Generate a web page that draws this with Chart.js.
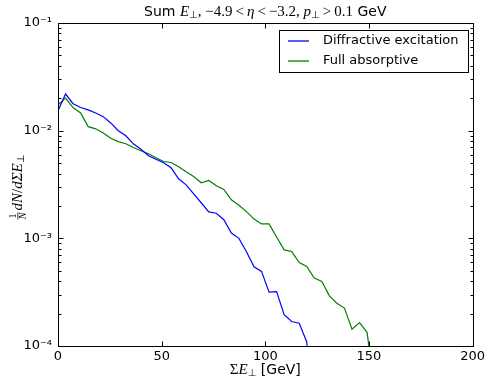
<!DOCTYPE html>
<html>
<head>
<meta charset="utf-8">
<script src="https://cdn.jsdelivr.net/npm/chart.js@4/dist/chart.umd.min.js"></script>
<style>
  html, body { margin: 0; padding: 0; background: #fff; }
</style>
</head>
<body>
<canvas id="chart" width="488" height="378"></canvas>
<script>
// sum E_perp bins (GeV)
const energies = [0, 3.64, 7.27, 10.91, 14.55, 18.18, 21.82, 25.45, 29.09, 32.73,
  36.36, 40, 43.64, 47.27, 50.91, 54.55, 58.18, 61.82, 65.45, 69.09,
  72.73, 76.36, 80, 83.64, 87.27, 90.91, 94.55, 98.18, 101.82, 105.45,
  109.09, 112.73, 116.36, 120, 123.64, 127.27, 130.91, 134.55, 138.18, 141.82,
  145.45, 149.09, 152.73]

const diffractive = [0.0153, 0.0219, 0.0178, 0.0164, 0.0156, 0.0146, 0.0135, 0.0118, 0.00998, 0.00897,
  0.00755, 0.00671, 0.00585, 0.00542, 0.00503, 0.00452, 0.00357, 0.00314, 0.00259, 0.00214,
  0.00176, 0.00171, 0.00149, 0.00112, 0.00100, 0.00075, 0.000543, 0.000493, 0.000316, 0.00032,
  0.000195, 0.000169, 0.000163, 0.000109, 0.00002]

const absorptive = [0.0174, 0.0201, 0.0164, 0.0146, 0.0109, 0.0104, 0.0095, 0.0085, 0.00792, 0.00756,
  0.00698, 0.0065, 0.0061, 0.0056, 0.00517, 0.00506, 0.00462, 0.00415, 0.00375, 0.00328,
  0.00345, 0.00308, 0.00285, 0.00228, 0.00203, 0.00177, 0.00151, 0.00136, 0.00136, 0.00103,
  0.000781, 0.000754, 0.000596, 0.000547, 0.000427, 0.000397, 0.000292, 0.00025, 0.000225, 0.000143,
  0.000165, 0.000134, 0.00004]

const seriesNames = ['Diffractive excitation', 'Full absorptive']
const seriesColors = ['#0000ff', '#008000']
const xTicks = [0, 50, 100, 150, 200]
const yTicks = [1e-4, 1e-3, 1e-2, 1e-1]
const yTickLabels = ['10\u207B\u2074', '10\u207B\u00B3', '10\u207B\u00B2', '10\u207B\u00B9']

const SANS = '14px "DejaVu Sans"'
const MI = 'italic 15px "Liberation Serif"'
const MR = '15px "Liberation Serif"'
const SUB = '10px "DejaVu Sans"'

function toPoints(vals) {
  return vals.map((v, i) => ({ x: energies[i], y: v }))
}

// draw a run of text pieces [text, font, dy]
function rich(ctx, parts, x, y, align) {
  let w = 0
  parts.forEach(p => { ctx.font = p[1]; w += ctx.measureText(p[0]).width })
  let cx = align === 'center' ? x - w / 2 : x
  parts.forEach(p => {
    ctx.font = p[1]
    ctx.fillText(p[0], cx, y + (p[2] || 0))
    cx += ctx.measureText(p[0]).width
  })
  return w
}

const decor = {
  id: 'decor',
  afterDraw(chart) {
    const { ctx, chartArea: a, scales: { x, y } } = chart
    ctx.save()
    ctx.strokeStyle = '#000'
    ctx.fillStyle = '#000'
    ctx.lineWidth = 1
    const L = Math.round(a.left) + 0.5, R = Math.round(a.right) + 0.5
    const T = Math.round(a.top) + 0.5, B = Math.round(a.bottom) + 0.5
    ctx.strokeRect(L, T, R - L, B - T)

    // inward ticks on all sides
    ctx.beginPath()
    xTicks.forEach(v => {
      const px = Math.round(x.getPixelForValue(v)) + 0.5
      ctx.moveTo(px, B); ctx.lineTo(px, B - 5)
      ctx.moveTo(px, T); ctx.lineTo(px, T + 5)
    })
    yTicks.forEach(v => {
      const py = Math.round(y.getPixelForValue(v)) + 0.5
      ctx.moveTo(L, py); ctx.lineTo(L + 5, py)
      ctx.moveTo(R, py); ctx.lineTo(R - 5, py)
    })
    for (let d = -4; d < -1; d++) {
      for (let k = 2; k < 10; k++) {
        const py = Math.round(y.getPixelForValue(k * Math.pow(10, d))) + 0.5
        ctx.moveTo(L, py); ctx.lineTo(L + 3, py)
        ctx.moveTo(R, py); ctx.lineTo(R - 3, py)
      }
    }
    ctx.stroke()

    ctx.textBaseline = 'middle'
    // title
    const th = '\u2009'
    rich(ctx, [
      ['Sum ', SANS], ['E', MI], ['\u22A5', SUB, 3], [', \u22124.9' + th + '<' + th, MR],
      ['\u03B7', MI], [th + '<' + th + '\u22123.2, ', MR], ['p', MI], ['\u22A5', SUB, 3],
      [th + '>' + th + '0.1', MR], [' GeV', SANS]
    ], (a.left + a.right) / 2, 12, 'center')

    // x axis title
    rich(ctx, [['\u03A3', MR], ['E', MI], ['\u22A5', SUB, 3], [' [GeV]', SANS]],
      (a.left + a.right) / 2, 370, 'center')

    // y axis title
    ctx.save()
    ctx.translate(18, (a.top + a.bottom) / 2 + 3)
    ctx.rotate(-Math.PI / 2)
    const restParts = [['dN', MI], ['/', MR], ['d\u03A3E', MI], ['\u22A5', SUB, 3]]
    let rw = 0
    restParts.forEach(p => { ctx.font = p[1]; rw += ctx.measureText(p[0]).width })
    const fw = 9
    const sx = -(rw + fw + 1) / 2
    ctx.textAlign = 'center'
    ctx.font = '10px "Liberation Serif"'
    ctx.fillText('1', sx + fw / 2, -5)
    ctx.font = 'italic 10px "Liberation Serif"'
    ctx.fillText('N', sx + fw / 2, 5)
    ctx.fillRect(sx + 1, -0.5, fw - 2, 0.8)
    ctx.textAlign = 'left'
    rich(ctx, restParts, sx + fw + 1, 0, 'left')
    ctx.restore()

    // legend
    ctx.fillStyle = '#fff'
    ctx.fillRect(279.5, 30.5, 189, 42)
    ctx.strokeStyle = '#000'
    ctx.strokeRect(279.5, 30.5, 189, 42)
    seriesNames.forEach((name, i) => {
      const ly = 41 + i * 20
      ctx.strokeStyle = seriesColors[i]
      ctx.lineWidth = 1.3
      ctx.beginPath(); ctx.moveTo(288, ly); ctx.lineTo(309, ly); ctx.stroke()
      ctx.fillStyle = '#000'
      ctx.font = '13px "DejaVu Sans"'
      ctx.textAlign = 'left'
      ctx.fillText(name, 323, ly)
    })
    ctx.restore()
  }
}

new Chart(document.getElementById('chart'), {
  type: 'line',
  data: {
    datasets: [
      { label: seriesNames[0], data: toPoints(diffractive), borderColor: seriesColors[0], borderWidth: 1.2, pointRadius: 0, tension: 0, fill: false },
      { label: seriesNames[1], data: toPoints(absorptive), borderColor: seriesColors[1], borderWidth: 1.2, pointRadius: 0, tension: 0, fill: false }
    ]
  },
  options: {
    responsive: false,
    animation: false,
    devicePixelRatio: 1,
    layout: { padding: { top: 23, right: 14, left: 0, bottom: 0 } },
    plugins: {
      legend: { display: false },
      title: { display: false },
      tooltip: { enabled: false }
    },
    scales: {
      x: {
        type: 'linear', min: 0, max: 200,
        afterBuildTicks: s => { s.ticks = xTicks.map(v => ({ value: v })) },
        afterFit: s => { s.height = 32 },
        grid: { display: false, drawTicks: false },
        border: { display: false },
        ticks: { color: '#000', font: { family: 'DejaVu Sans', size: 13 }, padding: 3, maxRotation: 0, autoSkip: false }
      },
      y: {
        type: 'logarithmic', min: 1e-4, max: 1e-1,
        afterBuildTicks: s => { s.ticks = yTicks.map(v => ({ value: v })) },
        afterFit: s => { s.width = 58 },
        grid: { display: false, drawTicks: false },
        border: { display: false },
        ticks: { color: '#000', font: { family: 'DejaVu Sans', size: 13 }, padding: 6, autoSkip: false,
          callback: (v, i) => yTickLabels[i] }
      }
    }
  },
  plugins: [decor]
})
</script>
</body>
</html>
